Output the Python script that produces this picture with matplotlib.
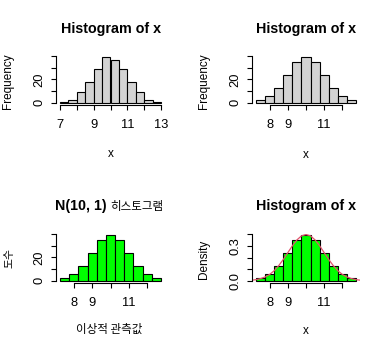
import numpy as np
import matplotlib
matplotlib.use("Agg")
import matplotlib.pyplot as plt

W, H = 387, 345

# histogram with breaks on the half units
breaks_a = [7.0, 7.5, 8.0, 8.5, 9.0, 9.5, 10.0, 10.5, 11.0, 11.5, 12.0, 12.5, 13.0]
counts_a = [1, 2, 9, 18, 29, 39, 37, 29, 18, 9, 2, 1]

# histogram with breaks centred on 10
breaks_b = [7.25, 7.75, 8.25, 8.75, 9.25, 9.75, 10.25, 10.75, 11.25, 11.75, 12.25, 12.75]
counts_b = [2, 6, 13, 24, 35, 39, 35, 24, 13, 6, 2]

# N(10, 1) density line on the last panel
curve_x = [7.0, 7.25, 7.5, 7.75, 8.0, 8.25, 8.5, 8.75, 9.0, 9.25, 9.5, 9.75, 10.0,
           10.25, 10.5, 10.75, 11.0, 11.25, 11.5, 11.75, 12.0, 12.25, 12.5, 12.75, 13.0]
curve_y = [0.004, 0.009, 0.018, 0.032, 0.054, 0.086, 0.130, 0.183, 0.242, 0.301, 0.352, 0.387, 0.399,
           0.387, 0.352, 0.301, 0.242, 0.183, 0.130, 0.086, 0.054, 0.032, 0.018, 0.009, 0.004]

xticks_a = [7, 8, 9, 10, 11, 12, 13]
xlabels_a = ["7", "", "9", "", "11", "", "13"]
xticks_b = [8, 9, 10, 11, 12]
xlabels_b = ["8", "9", "", "11", ""]
yticks_count = [0, 10, 20, 30, 40]
ylabels_count = ["0", "", "20", "", ""]
yticks_dens = [0.0, 0.1, 0.2, 0.3, 0.4]
ylabels_dens = ["0.0", "", "", "0.3", ""]

plt.rcParams["font.family"] = ["Liberation Sans", "Noto Sans CJK KR"]
KR = ["Noto Sans CJK KR", "Liberation Sans"]
TICK = 9.3
LAB = 8.5
TITLE = 10.3

fig = plt.figure(figsize=(W / 100, H / 100), dpi=100)


def px(x, y):
    return x / W, 1 - y / H


def panel(l, t, r, b, breaks, heights, color, xticks, xlabels, yticks, ylabels):
    ax = fig.add_axes([l / W, 1 - b / H, (r - l) / W, (b - t) / H])
    edges = np.array(breaks)
    ax.bar(edges[:-1], heights, width=np.diff(edges), align="edge",
           color=color, edgecolor="black", linewidth=0.8)
    span = edges[-1] - edges[0]
    ax.set_xlim(edges[0] - 0.04 * span, edges[-1] + 0.04 * span)
    top = max(heights)
    ax.set_ylim(-0.04 * top, 1.04 * top)
    ax.patch.set_visible(False)
    for side in ("top", "right"):
        ax.spines[side].set_visible(False)
    for side in ("left", "bottom"):
        ax.spines[side].set_linewidth(0.8)
    ax.spines["bottom"].set_bounds(xticks[0], xticks[-1])
    ax.spines["left"].set_bounds(yticks[0], yticks[-1])
    ax.set_xticks(xticks, xlabels)
    ax.set_yticks(yticks, ylabels, rotation=90, va="center")
    ax.tick_params(axis="both", direction="out", length=3.6, width=0.8, labelsize=TICK)
    ax.tick_params(axis="x", pad=7)
    ax.tick_params(axis="y", pad=4)
    return ax


# top left
panel(56, 55.5, 165, 104.5, breaks_a, counts_a, "#D3D3D3",
      xticks_a, xlabels_a, yticks_count, ylabels_count)
fig.text(*px(110.5, 33.5), "Histogram of x", ha="center", va="baseline",
         fontsize=TITLE, fontweight="bold")
fig.text(*px(110.5, 154), "x", ha="center", va="center", fontsize=LAB)
fig.text(*px(8.5, 81), "Frequency", ha="center", va="center", rotation=90, fontsize=LAB)

# top right
panel(252, 55.5, 360, 104.5, breaks_b, counts_b, "#D3D3D3",
      xticks_b, xlabels_b, yticks_count, ylabels_count)
fig.text(*px(306, 33.5), "Histogram of x", ha="center", va="baseline",
         fontsize=TITLE, fontweight="bold")
fig.text(*px(306, 155), "x", ha="center", va="center", fontsize=LAB)
fig.text(*px(204, 81), "Frequency", ha="center", va="center", rotation=90, fontsize=LAB)

# bottom left
panel(56, 233.5, 165, 282.5, breaks_b, counts_b, "#00FF00",
      xticks_b, xlabels_b, yticks_count, ylabels_count)
fig.text(*px(107, 210.5), "N(10, 1)", ha="right", va="baseline",
         fontsize=TITLE, fontweight="bold")
fig.text(*px(110.5, 210.5), "히스토그램", ha="left", va="baseline",
         fontsize=8.3, family=KR)
fig.text(*px(109, 329), "이상적 관측값", ha="center", va="center", fontsize=8.3, family=KR)
fig.text(*px(9, 258), "도수", ha="center", va="center", rotation=90, fontsize=7.8, family=KR)

# bottom right, density scale with the normal curve
density_b = np.array(counts_b) / (sum(counts_b) * np.diff(breaks_b))
ax4 = panel(252, 233.5, 360, 282.5, breaks_b, density_b, "#00FF00",
            xticks_b, xlabels_b, yticks_dens, ylabels_dens)
ax4.plot(curve_x, curve_y, color="#DF536B", linewidth=0.9)
fig.text(*px(306, 210.5), "Histogram of x", ha="center", va="baseline",
         fontsize=TITLE, fontweight="bold")
fig.text(*px(306, 331), "x", ha="center", va="center", fontsize=LAB)
fig.text(*px(204, 259), "Density", ha="center", va="center", rotation=90, fontsize=LAB)

fig.savefig("out.png", dpi=100)
